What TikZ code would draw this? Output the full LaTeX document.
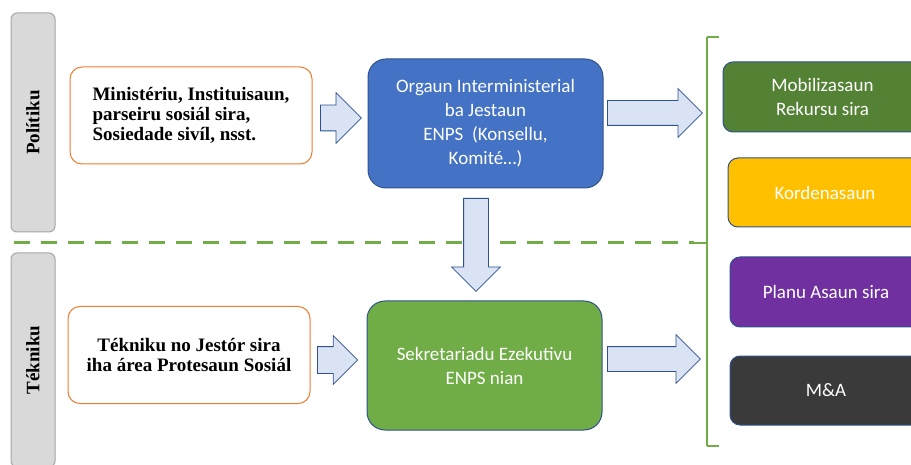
\documentclass[tikz,border=0pt]{standalone}
\usepackage{fontspec}
\setmainfont{Liberation Serif}
\newfontfamily\carlito{Carlito}
\usepackage{tikz}
\usetikzlibrary{shapes.arrows}
\pgfdeclarelayer{edgelayer}
\pgfdeclarelayer{nodelayer}
\pgfsetlayers{edgelayer,nodelayer,main}
\definecolor{barfill}{HTML}{D9D9D9}
\definecolor{bardraw}{HTML}{A6A6A6}
\definecolor{actordraw}{HTML}{ED7D31}
\definecolor{boxdraw}{HTML}{2F528F}
\definecolor{orgaunblue}{HTML}{4472C4}
\definecolor{sekgreen}{HTML}{70AD47}
\definecolor{mobgreen}{HTML}{548235}
\definecolor{kordyellow}{HTML}{FFC000}
\definecolor{planupurple}{HTML}{7030A0}
\definecolor{madark}{HTML}{3A3A3A}
\definecolor{arrowfill}{HTML}{DAE3F3}
\tikzstyle{none}=[inner sep=0pt]
\tikzstyle{lane}=[rectangle,rounded corners=6pt,fill=barfill,draw=bardraw,line width=1,minimum width=44pt,inner sep=0pt,font=\fontsize{19}{20}\selectfont\bfseries]
\tikzstyle{actor}=[rectangle,rounded corners=12pt,fill=white,draw=actordraw,line width=1,minimum width=242pt,minimum height=97pt,font=\fontsize{19}{20}\selectfont\bfseries]
\tikzstyle{body}=[rectangle,rounded corners=18pt,draw=boxdraw,line width=1,text=white,minimum width=235pt,minimum height=129pt,align=center,font=\carlito\fontsize{19}{24}\selectfont]
\tikzstyle{task}=[rectangle,rounded corners=10pt,draw=boxdraw,line width=1,text=white,minimum height=70pt,align=center,font=\carlito\fontsize{19}{23.5}\selectfont]
\tikzstyle{blockarrow}=[single arrow,draw=boxdraw,fill=arrowfill,line width=0.8,inner sep=12pt,single arrow head extend=12pt,anchor=tail]
\tikzstyle{divider}=[-,draw=sekgreen,line width=3,dash pattern=on 16pt off 11pt]
\tikzstyle{bracket}=[-,draw=sekgreen,line width=2]

\begin{document}
\begin{tikzpicture}[x=1pt,y=-1pt]
	\useasboundingbox (0,0) rectangle (911,465);
	\begin{pgfonlayer}{nodelayer}
		\clip (0,0) rectangle (911,465);
		\node [style=lane, minimum height=219pt] (politiku) at (33, 122.5) {\rotatebox{90}{Polítiku}};
		\node [style=lane, minimum height=214pt] (tekniku) at (33, 360) {\rotatebox{90}{Tékniku}};

		\node [style=actor, align=left] (ministeriu) at (191, 115.5) {Ministériu, Instituisaun,\\parseiru sosiál sira,\\Sosiedade sivíl, nsst.};
		\node [style=actor, align=center] (jestor) at (189, 355) {Tékniku no Jestór sira\\iha área Protesaun Sosiál};

		\node [style=body, fill=orgaunblue] (orgaun) at (485.5, 123.5) {Orgaun Interministerial\\ba Jestaun\\ENPS\ \ (Konsellu,\\Komité…)};
		\node [style=body, fill=sekgreen] (sekretariadu) at (484.5, 365.5) {Sekretariadu Ezekutivu\\ENPS nian};

		\node [style=task, fill=mobgreen, minimum width=199pt] (mobilizasaun) at (822.5, 97) {Mobilizasaun\\Rekursu sira};
		\node [style=task, fill=kordyellow, minimum width=194pt, minimum height=69pt] (kordenasaun) at (825, 192.5) {Kordenasaun};
		\node [style=task, fill=planupurple, minimum width=192pt] (planu) at (826, 292) {Planu Asaun sira};
		\node [style=task, fill=madark, minimum width=192pt, minimum height=69pt] (ma) at (826, 390.5) {M\&A};

		\node [style=blockarrow, minimum height=41pt, inner sep=12.5pt, single arrow head extend=12.5pt] (a1) at (320, 118) {};
		\node [style=blockarrow, minimum height=95pt] (a2) at (607, 113) {};
		\node [style=blockarrow, minimum height=93pt, shape border rotate=270] (a3) at (476, 198) {};
		\node [style=blockarrow, minimum height=40pt, inner sep=13pt, single arrow head extend=11pt] (a4) at (317, 360) {};
		\node [style=blockarrow, minimum height=93pt] (a5) at (607, 359) {};

		\node [style=none] (dl) at (14, 243) {};
		\node [style=none] (btr) at (719, 37) {};
		\node [style=none] (btl) at (707, 37) {};
		\node [style=none] (bm) at (707, 243) {};
		\node [style=none] (bt) at (694, 243) {};
		\node [style=none] (bbl) at (707, 446) {};
		\node [style=none] (bbr) at (719, 446) {};
	\end{pgfonlayer}
	\begin{pgfonlayer}{edgelayer}
		\draw [style=divider] (dl.center) to (bt.center);
		\draw [style=bracket] (btr.center) to (btl.center);
		\draw [style=bracket] (btl.center) to (bbl.center);
		\draw [style=bracket] (bbl.center) to (bbr.center);
		\draw [style=bracket] (bm.center) to (bt.center);
	\end{pgfonlayer}
\end{tikzpicture}
\end{document}
